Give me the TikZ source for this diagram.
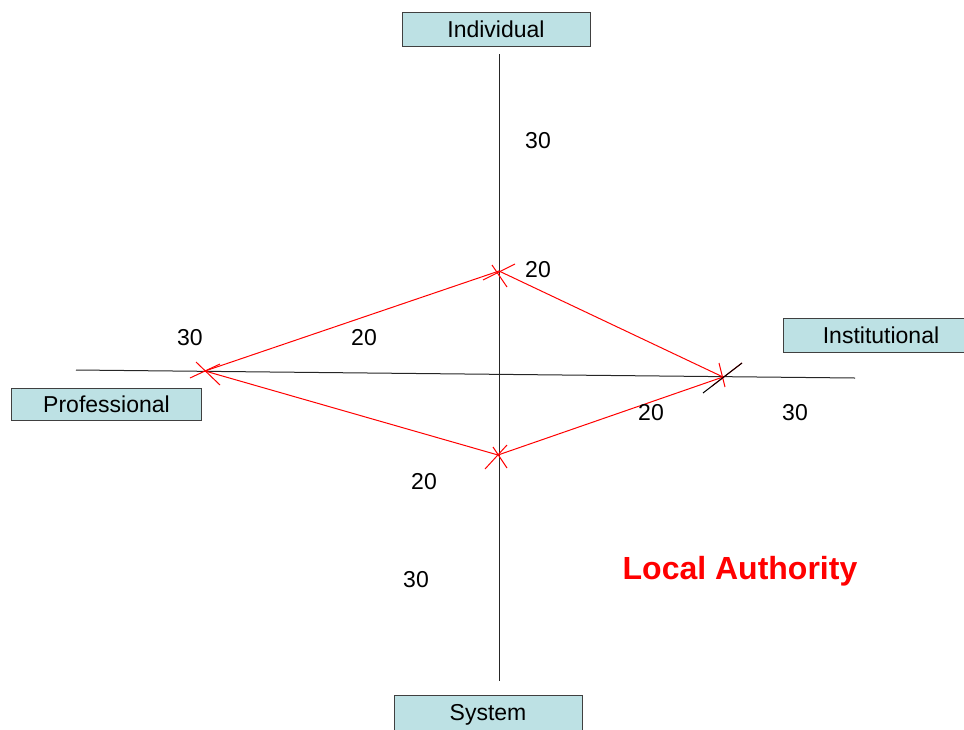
\documentclass[tikz,border=0pt]{standalone}
\usepackage{fontspec}
\setmainfont{Liberation Sans}
\usetikzlibrary{calc}
\definecolor{boxfill}{HTML}{BDE1E4}
\definecolor{boxline}{HTML}{404040}
\tikzset{
  axisbox/.style={draw=boxline, fill=boxfill, line width=0.9pt, inner sep=0pt,
    font=\fontsize{23}{25}\selectfont, anchor=center},
  axisline/.style={draw=black!85, line width=1pt},
  linkline/.style={draw=red, line width=1pt},
  tickmark/.style={draw=red, line width=1pt},
  score/.style={font=\fontsize{23}{25}\selectfont, inner sep=0pt, anchor=center},
}
\begin{document}
\begin{tikzpicture}[x=1pt,y=-1pt]
\useasboundingbox (0,0) rectangle (964,729);
\clip (0,0) rectangle (964,729);

% category boxes
\node[axisbox, minimum width=188pt, minimum height=34pt] (ind) at (496,29) {Individual};
\node[axisbox, minimum width=190pt, minimum height=32pt] (pro) at (106.5,404) {Professional};
\node[axisbox, minimum width=196pt, minimum height=34pt] (ins) at (881,335) {Institutional};
\node[axisbox, minimum width=188pt, minimum height=40pt] (sys) at (488,715) {System};

% axes
\coordinate (vtop) at (499,54);
\coordinate (vbot) at (499,681);
\coordinate (hl) at (76,370);
\coordinate (hr) at (855,378);
\draw[axisline] (vtop) -- (vbot);
\draw[axisline] (hl) -- (hr);

% scored points
\coordinate (pI) at (499,271);
\coordinate (pP) at (205,371);
\coordinate (pN) at (723,377);
\coordinate (pS) at (498,455);

\draw[linkline] (pI) -- (pP) -- (pS) -- (pN) -- cycle;

% cross marks at the points
\draw[tickmark] ($(pI)+(-7,-6)$) -- ($(pI)+(8,16)$);
\draw[tickmark] ($(pI)+(-16,9)$) -- ($(pI)+(16,-7)$);
\draw[tickmark] ($(pP)+(-9,-9)$) -- ($(pP)+(15,14)$);
\draw[tickmark] ($(pP)+(-15,7)$) -- ($(pP)+(15,-7)$);
\draw[tickmark] ($(pN)+(-4,-14)$) -- ($(pN)+(2,10)$);
\draw[tickmark] ($(pN)+(-11,9)$) -- ($(pN)+(19,-14)$);
\draw[black, line width=1pt] ($(pN)+(19,-14)$) -- ($(pN)+(-20,16)$);
\draw[tickmark] ($(pS)+(-5,-8)$) -- ($(pS)+(9,13)$);
\draw[tickmark] ($(pS)+(-13,14)$) -- ($(pS)+(9,-10)$);

% scores
\node[score] (s1) at (538,141) {30};
\node[score] (s2) at (538,270) {20};
\node[score] (s3) at (190,338) {30};
\node[score] (s4) at (364,338) {20};
\node[score] (s5) at (651,413) {20};
\node[score] (s6) at (795,413) {30};
\node[score] (s7) at (424,482) {20};
\node[score] (s8) at (416,580) {30};

\node[text=red, font=\fontsize{32}{34}\selectfont\bfseries, inner sep=0pt] (la) at (740,571) {Local Authority};
\end{tikzpicture}
\end{document}
